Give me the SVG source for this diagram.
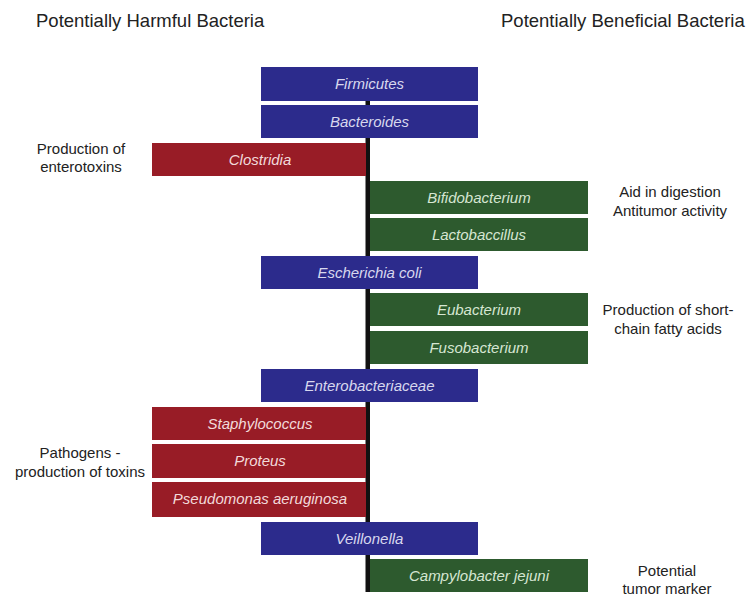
<svg xmlns="http://www.w3.org/2000/svg" width="751" height="599" viewBox="0 0 751 599">
<style>
.hdr{font-family:"Liberation Sans",Arial,sans-serif;font-size:18.5px;fill:#222}
.note{font-family:"Liberation Sans",Arial,sans-serif;font-size:15px;fill:#222;text-anchor:middle}
.lbl{font-family:"Liberation Sans",Arial,sans-serif;font-size:15px;font-style:italic;text-anchor:middle}
.blue rect{fill:#2c2b8c}
.blue text{fill:#d8d8ee}
.red rect{fill:#981c26}
.red text{fill:#f2dada}
.green rect{fill:#2d5a2e}
.green text{fill:#d6e6d2}
</style>
<rect width="751" height="599" fill="#ffffff"/>
<text class="hdr" x="36" y="27">Potentially Harmful Bacteria</text>
<text class="hdr" x="501" y="27">Potentially Beneficial Bacteria</text>
<g id="connectors">
<rect x="365.5" y="67" width="4.5" height="525" fill="#111"/>
</g>
<g id="firmicutes" class="blue"><rect x="261" y="67" width="217" height="34"/><text class="lbl" x="369.5" y="89">Firmicutes</text></g>
<g id="bacteroides" class="blue"><rect x="261" y="105" width="217" height="33"/><text class="lbl" x="369.5" y="127">Bacteroides</text></g>
<g id="clostridia" class="red"><rect x="152" y="143" width="214" height="33"/><text class="lbl" x="260" y="165">Clostridia</text></g>
<g id="bifidobacterium" class="green"><rect x="370" y="181" width="218" height="33"/><text class="lbl" x="479" y="203">Bifidobacterium</text></g>
<g id="lactobaccillus" class="green"><rect x="370" y="218" width="218" height="33"/><text class="lbl" x="479" y="240">Lactobaccillus</text></g>
<g id="escherichia" class="blue"><rect x="261" y="256" width="217" height="33"/><text class="lbl" x="369.5" y="278">Escherichia coli</text></g>
<g id="eubacterium" class="green"><rect x="370" y="293" width="218" height="33"/><text class="lbl" x="479" y="315">Eubacterium</text></g>
<g id="fusobacterium" class="green"><rect x="370" y="331" width="218" height="33"/><text class="lbl" x="479" y="353">Fusobacterium</text></g>
<g id="enterobacteriaceae" class="blue"><rect x="261" y="369" width="217" height="33"/><text class="lbl" x="369.5" y="391">Enterobacteriaceae</text></g>
<g id="staphylococcus" class="red"><rect x="152" y="407" width="214" height="33"/><text class="lbl" x="260" y="429">Staphylococcus</text></g>
<g id="proteus" class="red"><rect x="152" y="444" width="214" height="34"/><text class="lbl" x="260" y="466">Proteus</text></g>
<g id="pseudomonas" class="red"><rect x="152" y="482" width="214" height="35"/><text class="lbl" x="260" y="504">Pseudomonas aeruginosa</text></g>
<g id="veillonella" class="blue"><rect x="261" y="522" width="217" height="33"/><text class="lbl" x="369.5" y="544">Veillonella</text></g>
<g id="campylobacter" class="green"><rect x="370" y="559" width="218" height="33"/><text class="lbl" x="479" y="581">Campylobacter jejuni</text></g>
<g id="note-enterotoxins"><text class="note" x="81" y="154">Production of</text><text class="note" x="81" y="172">enterotoxins</text></g>
<g id="note-digestion"><text class="note" x="670" y="197">Aid in digestion</text><text class="note" x="670" y="216">Antitumor activity</text></g>
<g id="note-fatty"><text class="note" x="668" y="315">Production of short-</text><text class="note" x="668" y="334">chain fatty acids</text></g>
<g id="note-pathogens"><text class="note" x="80" y="458">Pathogens -</text><text class="note" x="80" y="477">production of toxins</text></g>
<g id="note-tumor"><text class="note" x="667" y="576">Potential</text><text class="note" x="667" y="594">tumor marker</text></g>
</svg>
